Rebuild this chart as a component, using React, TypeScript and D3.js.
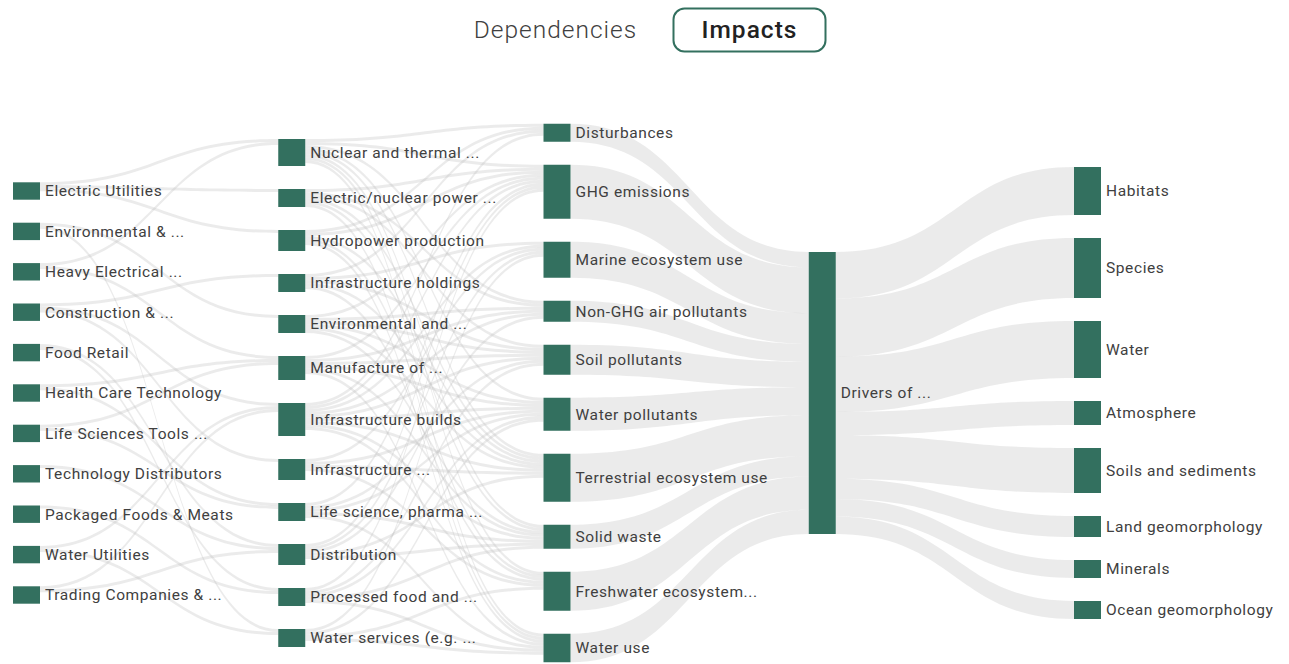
import React from "react";
import * as d3 from "d3";

// ---------- DATA ----------
const industries = [
  "Electric Utilities",
  "Environmental & ...",
  "Heavy Electrical ...",
  "Construction & ...",
  "Food Retail",
  "Health Care Technology",
  "Life Sciences Tools ...",
  "Technology Distributors",
  "Packaged Foods & Meats",
  "Water Utilities",
  "Trading Companies & ...",
];
const industryValues = [5.8, 5.8, 5.8, 5.8, 5.8, 5.8, 5.8, 5.8, 5.8, 5.8, 5.8];

const processes = [
  "Nuclear and thermal ...",
  "Electric/nuclear power ...",
  "Hydropower production",
  "Infrastructure holdings",
  "Environmental and ...",
  "Manufacture of ...",
  "Infrastructure builds",
  "Infrastructure ...",
  "Life science, pharma ...",
  "Distribution",
  "Processed food and ...",
  "Water services (e.g. ...",
];
const processValues = [9, 6, 7, 6, 6, 8, 11, 7, 6, 7, 6, 6];

const impactDrivers = [
  "Disturbances",
  "GHG emissions",
  "Marine ecosystem use",
  "Non-GHG air pollutants",
  "Soil pollutants",
  "Water pollutants",
  "Terrestrial ecosystem use",
  "Solid waste",
  "Freshwater ecosystem...",
  "Water use",
];
const impactDriverValues = [6, 18, 12, 7, 10, 11, 16, 8, 13, 9.5];

const hubs = ["Drivers of ..."];
const hubValues = [94];

const assets = [
  "Habitats",
  "Species",
  "Water",
  "Atmosphere",
  "Soils and sediments",
  "Land geomorphology",
  "Minerals",
  "Ocean geomorphology",
];
const assetValues = [16, 20, 19, 8, 15, 7, 6, 6];

const industryProcessLinks: [string, string, number][] = [
  ["Electric Utilities", "Nuclear and thermal ...", 1],
  ["Electric Utilities", "Electric/nuclear power ...", 1],
  ["Electric Utilities", "Hydropower production", 1],
  ["Environmental & ...", "Environmental and ...", 1],
  ["Environmental & ...", "Water services (e.g. ...", 1],
  ["Heavy Electrical ...", "Nuclear and thermal ...", 1],
  ["Heavy Electrical ...", "Manufacture of ...", 1],
  ["Construction & ...", "Infrastructure holdings", 1],
  ["Construction & ...", "Infrastructure builds", 1],
  ["Construction & ...", "Infrastructure ...", 1],
  ["Food Retail", "Distribution", 1],
  ["Food Retail", "Processed food and ...", 1],
  ["Health Care Technology", "Manufacture of ...", 1],
  ["Health Care Technology", "Life science, pharma ...", 1],
  ["Life Sciences Tools ...", "Life science, pharma ...", 1],
  ["Life Sciences Tools ...", "Manufacture of ...", 1],
  ["Technology Distributors", "Distribution", 1],
  ["Packaged Foods & Meats", "Processed food and ...", 1],
  ["Water Utilities", "Water services (e.g. ...", 1],
  ["Water Utilities", "Infrastructure builds", 1],
  ["Trading Companies & ...", "Distribution", 1],
  ["Trading Companies & ...", "Infrastructure builds", 1],
];

const processDriverMap: [string, string[]][] = [
  ["Nuclear and thermal ...", ["Disturbances", "GHG emissions", "Non-GHG air pollutants", "Water pollutants", "Terrestrial ecosystem use", "Solid waste", "Freshwater ecosystem...", "Water use"]],
  ["Electric/nuclear power ...", ["GHG emissions", "Non-GHG air pollutants", "Soil pollutants", "Terrestrial ecosystem use", "Solid waste", "Water use"]],
  ["Hydropower production", ["Disturbances", "GHG emissions", "Terrestrial ecosystem use", "Freshwater ecosystem...", "Water use"]],
  ["Infrastructure holdings", ["Disturbances", "Marine ecosystem use", "Soil pollutants", "Terrestrial ecosystem use", "Freshwater ecosystem..."]],
  ["Environmental and ...", ["GHG emissions", "Non-GHG air pollutants", "Soil pollutants", "Water pollutants", "Terrestrial ecosystem use", "Solid waste"]],
  ["Manufacture of ...", ["GHG emissions", "Non-GHG air pollutants", "Soil pollutants", "Water pollutants", "Solid waste", "Water use"]],
  ["Infrastructure builds", ["Disturbances", "GHG emissions", "Marine ecosystem use", "Non-GHG air pollutants", "Soil pollutants", "Water pollutants", "Terrestrial ecosystem use", "Solid waste", "Freshwater ecosystem..."]],
  ["Infrastructure ...", ["Marine ecosystem use", "Water pollutants", "Terrestrial ecosystem use", "Freshwater ecosystem..."]],
  ["Life science, pharma ...", ["GHG emissions", "Soil pollutants", "Water pollutants", "Solid waste", "Water use"]],
  ["Distribution", ["GHG emissions", "Marine ecosystem use", "Non-GHG air pollutants", "Terrestrial ecosystem use", "Solid waste"]],
  ["Processed food and ...", ["GHG emissions", "Soil pollutants", "Water pollutants", "Solid waste", "Water use"]],
  ["Water services (e.g. ...", ["Marine ecosystem use", "Water pollutants", "Freshwater ecosystem...", "Water use"]],
];

const tabLabels = ["Dependencies", "Impacts"];

// ---------- LAYOUT ----------
const W = 1289;
const H = 664;
const NODE_W = 27;
const GAP = 23;
const CENTER_Y = 393;
const NODE_COLOR = "#33705f";

type Node = { name: string; value: number; col: number; x: number; y0: number; y1: number; out: Link[]; inn: Link[] };
type Link = { s: Node; t: Node; value: number; sy0: number; sy1: number; ty0: number; ty1: number };

function buildLayout() {
  const columns: [string[], number[]][] = [
    [industries, industryValues],
    [processes, processValues],
    [impactDrivers, impactDriverValues],
    [hubs, hubValues],
    [assets, assetValues],
  ];
  const xScale = d3.scaleLinear().domain([0, columns.length - 1]).range([13, 1074]);
  const hScale = d3.scaleLinear().domain([0, 94]).range([0, 282]);

  const byName = new Map<string, Node>();
  const nodes: Node[] = [];
  columns.forEach(([names, vals], ci) => {
    const hs = vals.map((v) => hScale(v));
    const total = d3.sum(hs) + GAP * (names.length - 1);
    let y = CENTER_Y - total / 2;
    names.forEach((n, i) => {
      const node: Node = { name: n, value: vals[i], col: ci, x: xScale(ci), y0: y, y1: y + hs[i], out: [], inn: [] };
      y += hs[i] + GAP;
      nodes.push(node);
      byName.set(ci + "|" + n, node);
    });
  });

  const raw: [number, string, string, number][] = [];
  industryProcessLinks.forEach(([a, b, v]) => raw.push([0, a, b, v]));
  processDriverMap.forEach(([a, list]) => list.forEach((b) => raw.push([1, a, b, 1])));
  impactDrivers.forEach((d, i) => raw.push([2, d, hubs[0], impactDriverValues[i]]));
  assets.forEach((a, i) => raw.push([3, hubs[0], a, assetValues[i]]));

  const links: Link[] = raw.map(([c, a, b, v]) => {
    const s = byName.get(c + "|" + a)!;
    const t = byName.get(c + 1 + "|" + b)!;
    const l: Link = { s, t, value: v, sy0: 0, sy1: 0, ty0: 0, ty1: 0 };
    s.out.push(l);
    t.inn.push(l);
    return l;
  });

  nodes.forEach((n) => {
    const h = n.y1 - n.y0;
    const outs = n.out.slice().sort((a, b) => a.t.y0 - b.t.y0);
    const outTot = d3.sum(outs, (l) => hScale(l.value));
    const fo = outTot > h ? h / outTot : 1;
    let y = n.y0;
    outs.forEach((l) => {
      const w = hScale(l.value) * fo;
      l.sy0 = y;
      l.sy1 = y + w;
      y += w;
    });
    const ins = n.inn.slice().sort((a, b) => a.s.y0 - b.s.y0);
    const inTot = d3.sum(ins, (l) => hScale(l.value));
    const fi = inTot > h ? h / inTot : 1;
    y = n.y0;
    ins.forEach((l) => {
      const w = hScale(l.value) * fi;
      l.ty0 = y;
      l.ty1 = y + w;
      y += w;
    });
  });
  return { nodes, links };
}

function linkPath(l: Link) {
  const x0 = l.s.x + NODE_W;
  const x1 = l.t.x;
  const xm = (x0 + x1) / 2;
  const p = d3.path();
  p.moveTo(x0, l.sy0);
  p.bezierCurveTo(xm, l.sy0, xm, l.ty0, x1, l.ty0);
  p.lineTo(x1, l.ty1);
  p.bezierCurveTo(xm, l.ty1, xm, l.sy1, x0, l.sy1);
  p.closePath();
  return p.toString();
}

export default function App() {
  const { nodes, links } = React.useMemo(buildLayout, []);
  return (
    <svg
      width={W}
      height={H}
      style={{ position: "absolute", left: 0, top: 0, background: "#fff" }}
      fontFamily="Roboto, 'Noto Sans', sans-serif"
    >
      {/* toggle */}
      <text x={555.5} y={29} dy="0.35em" textAnchor="middle" fontSize={24.5} fontWeight={300} letterSpacing={1} fill="#404040">
        {tabLabels[0]}
      </text>
      <rect x={673.5} y={8.5} width={152} height={43} rx={11} fill="#fff" stroke={NODE_COLOR} strokeWidth={2} />
      <text x={749.5} y={29} dy="0.35em" textAnchor="middle" fontSize={24.5} fontWeight={500} letterSpacing={1} fill="#222">
        {tabLabels[1]}
      </text>

      <g>
        {links.map((l, i) => (
          <path key={i} d={linkPath(l)} fill="#bdbdbd" fillOpacity={0.3} />
        ))}
      </g>
      <g>
        {nodes.map((n, i) => (
          <rect key={i} x={n.x} y={n.y0} width={NODE_W} height={n.y1 - n.y0} fill={NODE_COLOR} />
        ))}
      </g>
      <g>
        {nodes.map((n, i) => (
          <text
            key={i}
            x={n.x + NODE_W + 5}
            y={(n.y0 + n.y1) / 2}
            dy="0.35em"
            fontSize={15.5}
            letterSpacing={0.6}
            fill="#404040"
          >
            {n.name}
          </text>
        ))}
      </g>
    </svg>
  );
}
